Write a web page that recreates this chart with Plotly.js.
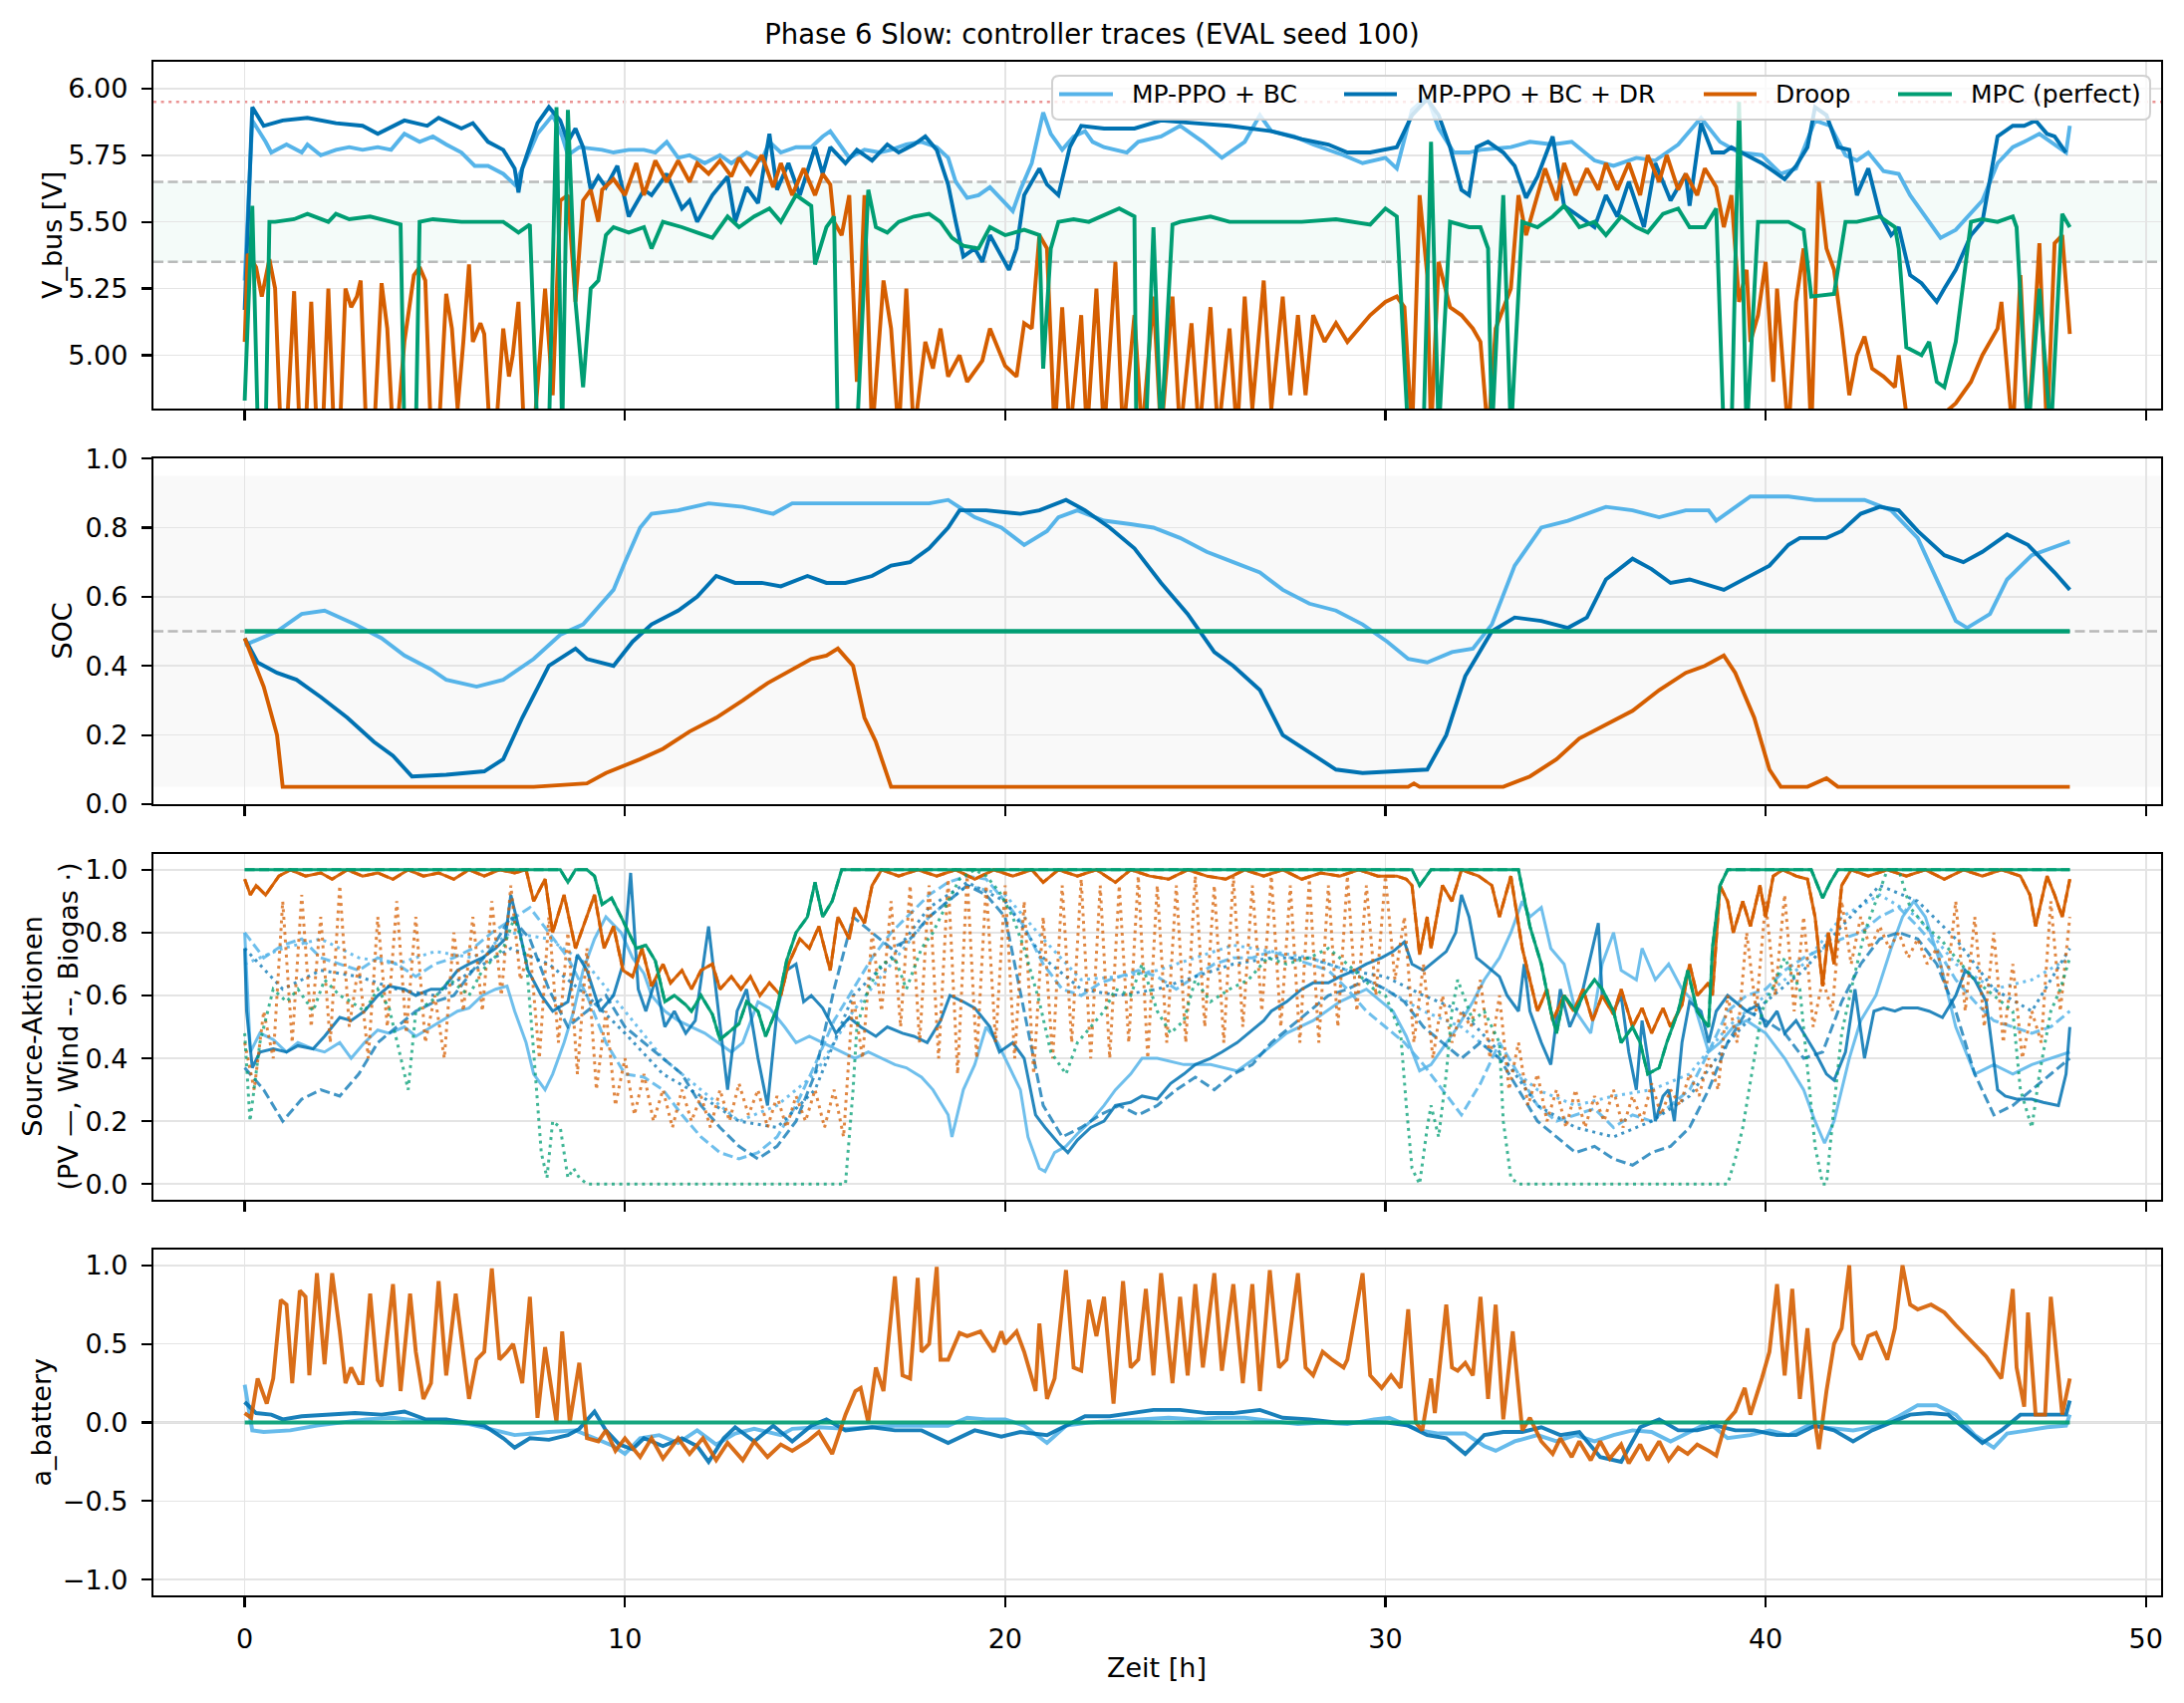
<!DOCTYPE html>
<html><head><meta charset="utf-8">
<script src="https://cdn.plot.ly/plotly-3.0.1.min.js"></script>
<style>html,body{margin:0;padding:0;background:#fff}#chart{width:2192px;height:1709px}</style>
</head><body><div id="chart"></div>
<script>
// ---------- Panel 1: V_bus [V]  (pairs: [hour, volt]) ----------
const vbusBC = [[0,5.28],[0.2,5.88],[0.55,5.80],[0.7,5.76],[1.1,5.79],[1.5,5.76],[1.65,5.79],[2.0,5.75],[2.4,5.77],[2.75,5.78],[3.1,5.77],[3.5,5.78],[3.85,5.77],[4.2,5.83],[4.6,5.80],[4.95,5.82],[5.3,5.79],[5.7,5.76],[6.05,5.71],[6.4,5.71],[6.8,5.68],[7.1,5.64],[7.3,5.70],[7.7,5.83],[8.1,5.90],[8.35,5.82],[8.5,5.75],[8.8,5.78],[9.4,5.77],[9.7,5.76],[10.1,5.77],[10.5,5.77],[10.8,5.76],[11.1,5.80],[11.4,5.74],[11.7,5.75],[12.1,5.72],[12.5,5.75],[12.8,5.72],[13.2,5.76],[13.6,5.73],[13.8,5.80],[14.1,5.76],[14.5,5.78],[14.9,5.78],[15.2,5.82],[15.4,5.84],[15.6,5.80],[15.9,5.74],[16.3,5.77],[16.7,5.76],[17.0,5.77],[17.4,5.79],[17.8,5.80],[18.2,5.78],[18.5,5.74],[18.7,5.65],[19.0,5.59],[19.3,5.60],[19.6,5.63],[20.0,5.57],[20.2,5.54],[20.4,5.62],[20.7,5.72],[21.0,5.91],[21.2,5.83],[21.5,5.77],[21.8,5.82],[22.1,5.84],[22.3,5.80],[22.6,5.78],[23.2,5.76],[23.5,5.80],[24.1,5.82],[24.6,5.86],[25.2,5.80],[25.7,5.74],[26.3,5.80],[26.7,5.90],[27.0,5.84],[27.6,5.82],[28.1,5.79],[28.9,5.75],[29.4,5.72],[30.0,5.74],[30.3,5.70],[30.7,5.92],[31.1,5.97],[31.4,5.85],[31.8,5.76],[32.2,5.76],[32.5,5.77],[33.3,5.78],[33.8,5.80],[34.4,5.79],[34.9,5.80],[35.5,5.73],[36.0,5.71],[36.6,5.74],[37.1,5.73],[37.7,5.79],[38.3,5.89],[38.8,5.80],[39.3,5.76],[39.9,5.75],[40.4,5.68],[40.8,5.70],[41.3,5.88],[41.7,5.86],[42.1,5.75],[42.4,5.73],[42.7,5.76],[43.1,5.69],[43.5,5.68],[43.8,5.60],[44.2,5.52],[44.6,5.44],[45.0,5.47],[45.4,5.53],[45.7,5.58],[46.1,5.72],[46.5,5.78],[46.8,5.80],[47.2,5.83],[47.5,5.80],[47.9,5.76],[48.0,5.86]];
const vbusDR = [[0,5.17],[0.2,5.93],[0.5,5.86],[1.0,5.88],[1.65,5.89],[2.4,5.87],[3.1,5.86],[3.5,5.83],[4.2,5.88],[4.8,5.86],[5.1,5.89],[5.7,5.85],[6.0,5.87],[6.4,5.80],[6.8,5.77],[7.1,5.70],[7.2,5.61],[7.3,5.70],[7.7,5.87],[8.0,5.93],[8.3,5.88],[8.5,5.80],[8.7,5.85],[8.9,5.78],[9.1,5.62],[9.3,5.67],[9.5,5.63],[9.8,5.71],[10.1,5.52],[10.5,5.62],[10.7,5.60],[11.1,5.68],[11.5,5.55],[11.7,5.58],[11.9,5.50],[12.3,5.60],[12.7,5.67],[12.9,5.50],[13.2,5.63],[13.5,5.57],[13.8,5.83],[14.0,5.62],[14.3,5.72],[14.6,5.60],[15.0,5.78],[15.2,5.68],[15.4,5.78],[15.8,5.72],[16.1,5.77],[16.5,5.73],[16.9,5.79],[17.2,5.76],[17.6,5.79],[17.9,5.82],[18.2,5.77],[18.5,5.64],[18.7,5.50],[18.9,5.37],[19.2,5.40],[19.4,5.35],[19.6,5.45],[19.8,5.40],[20.1,5.32],[20.3,5.40],[20.5,5.60],[20.9,5.70],[21.1,5.64],[21.4,5.60],[21.7,5.78],[22.0,5.86],[22.6,5.85],[23.4,5.85],[24.1,5.88],[25.0,5.87],[25.9,5.86],[27.0,5.84],[27.8,5.81],[28.5,5.79],[29.0,5.76],[29.6,5.76],[30.3,5.78],[30.7,5.90],[31.1,5.96],[31.4,5.90],[31.7,5.78],[32.0,5.62],[32.2,5.60],[32.4,5.78],[32.7,5.80],[33.1,5.76],[33.4,5.71],[33.7,5.59],[34.0,5.67],[34.4,5.82],[34.7,5.56],[35.1,5.52],[35.5,5.48],[35.8,5.60],[36.1,5.52],[36.4,5.65],[36.8,5.48],[37.1,5.72],[37.5,5.58],[37.9,5.68],[38.0,5.56],[38.3,5.87],[38.6,5.76],[38.9,5.76],[39.1,5.78],[39.5,5.75],[39.9,5.72],[40.2,5.69],[40.5,5.66],[40.8,5.71],[41.1,5.78],[41.3,5.93],[41.6,5.90],[41.9,5.78],[42.2,5.77],[42.4,5.60],[42.7,5.70],[43.0,5.53],[43.3,5.45],[43.5,5.48],[43.8,5.30],[44.1,5.27],[44.5,5.20],[44.7,5.25],[45.0,5.32],[45.4,5.45],[45.7,5.50],[46.1,5.82],[46.5,5.86],[46.8,5.86],[47.1,5.88],[47.4,5.83],[47.6,5.82],[47.9,5.76]];
const vbusDroop = [[0,5.05],[0.08,5.38],[0.3,5.33],[0.45,5.22],[0.65,5.36],[0.8,5.25],[0.95,4.7],[1.1,4.7],[1.3,5.24],[1.45,4.7],[1.6,4.7],[1.75,5.20],[1.9,4.7],[2.05,4.7],[2.2,5.25],[2.35,4.7],[2.5,4.7],[2.65,5.25],[2.8,5.18],[2.95,5.22],[3.05,5.28],[3.2,4.7],[3.4,4.7],[3.6,5.27],[3.75,5.10],[3.9,4.7],[4.0,4.7],[4.2,5.05],[4.45,5.30],[4.6,5.33],[4.75,5.28],[4.9,4.7],[5.1,4.7],[5.3,5.23],[5.45,5.10],[5.6,4.80],[5.75,5.05],[5.9,5.34],[6.0,5.05],[6.2,5.12],[6.3,5.08],[6.45,4.7],[6.6,4.7],[6.8,5.10],[6.95,4.92],[7.05,5.00],[7.2,5.20],[7.35,4.7],[7.6,4.7],[7.9,5.25],[8.1,4.85],[8.3,5.58],[8.5,5.60],[8.7,5.20],[8.9,5.58],[9.1,5.62],[9.3,5.50],[9.4,5.62],[9.7,5.66],[10.0,5.60],[10.3,5.72],[10.5,5.60],[10.8,5.73],[11.1,5.65],[11.4,5.73],[11.7,5.65],[11.9,5.72],[12.2,5.68],[12.5,5.73],[12.8,5.67],[13.0,5.74],[13.3,5.68],[13.6,5.75],[13.9,5.63],[14.1,5.72],[14.4,5.60],[14.7,5.70],[15.0,5.60],[15.2,5.68],[15.4,5.64],[15.5,5.50],[15.7,5.45],[15.9,5.60],[16.1,4.90],[16.3,5.60],[16.5,4.7],[16.8,5.28],[17.0,5.10],[17.2,4.7],[17.4,5.25],[17.6,4.7],[17.9,5.05],[18.1,4.95],[18.3,5.10],[18.5,4.92],[18.8,5.00],[19.0,4.90],[19.4,4.98],[19.6,5.10],[20.0,4.96],[20.3,4.92],[20.5,5.12],[20.7,5.10],[20.9,5.45],[21.1,5.40],[21.3,4.7],[21.5,5.18],[21.7,4.7],[22.0,5.15],[22.15,4.7],[22.4,5.25],[22.6,4.7],[22.9,5.35],[23.1,4.7],[23.4,5.15],[23.6,4.7],[23.9,5.22],[24.1,4.7],[24.4,5.22],[24.6,4.7],[24.9,5.12],[25.1,4.7],[25.4,5.18],[25.6,4.7],[25.9,5.10],[26.1,4.7],[26.3,5.22],[26.5,4.80],[26.8,5.28],[27.0,4.80],[27.3,5.22],[27.5,4.85],[27.7,5.15],[27.9,4.85],[28.1,5.15],[28.4,5.05],[28.7,5.12],[29.0,5.05],[29.3,5.10],[29.6,5.15],[30.0,5.20],[30.3,5.22],[30.5,5.18],[30.7,4.7],[30.9,5.60],[31.1,5.30],[31.2,4.7],[31.4,5.35],[31.7,5.18],[32.0,5.15],[32.3,5.10],[32.5,5.05],[32.7,4.7],[32.9,5.10],[33.3,5.25],[33.5,5.60],[33.7,5.45],[33.9,5.55],[34.2,5.70],[34.5,5.58],[34.7,5.72],[35.0,5.60],[35.3,5.70],[35.6,5.62],[35.8,5.72],[36.1,5.62],[36.4,5.72],[36.7,5.60],[36.9,5.75],[37.2,5.65],[37.4,5.75],[37.7,5.62],[37.9,5.68],[38.2,5.60],[38.4,5.70],[38.7,5.63],[38.9,5.48],[39.1,5.60],[39.3,5.20],[39.5,5.32],[39.6,5.05],[39.8,5.15],[40.0,5.35],[40.2,4.90],[40.3,5.25],[40.6,4.7],[40.8,5.20],[41.0,5.40],[41.2,4.7],[41.4,5.65],[41.6,5.40],[41.8,5.32],[42.0,5.10],[42.2,4.85],[42.4,5.00],[42.6,5.07],[42.8,4.95],[43.1,4.92],[43.4,4.88],[43.5,5.00],[43.7,4.78],[44.0,4.77],[44.3,4.75],[44.6,4.77],[45.0,4.82],[45.4,4.90],[45.7,5.00],[46.1,5.10],[46.2,5.20],[46.5,4.7],[46.7,5.30],[46.9,4.7],[47.2,5.42],[47.4,4.7],[47.6,5.42],[47.8,5.45],[48.0,5.08]];
const vbusMPC = [[0,4.83],[0.2,5.56],[0.35,4.7],[0.55,4.7],[0.65,5.50],[0.8,5.50],[1.3,5.51],[1.65,5.53],[2.2,5.50],[2.4,5.53],[2.75,5.51],[3.3,5.52],[3.85,5.50],[4.1,5.49],[4.2,4.7],[4.5,4.7],[4.6,5.50],[4.95,5.51],[5.7,5.50],[6.4,5.50],[6.8,5.50],[7.2,5.46],[7.5,5.49],[7.7,4.7],[8.0,4.7],[8.2,5.93],[8.35,4.7],[8.5,5.92],[8.7,5.20],[8.9,4.88],[9.1,5.25],[9.3,5.28],[9.5,5.45],[9.7,5.48],[10.1,5.46],[10.5,5.48],[10.7,5.40],[11.0,5.50],[11.5,5.48],[11.9,5.46],[12.3,5.44],[12.7,5.52],[13.0,5.48],[13.4,5.52],[13.8,5.55],[14.1,5.50],[14.5,5.60],[14.9,5.56],[15.0,5.34],[15.3,5.48],[15.5,5.52],[15.6,4.7],[16.1,4.7],[16.4,5.62],[16.6,5.48],[16.9,5.46],[17.2,5.50],[17.6,5.52],[18.0,5.53],[18.3,5.50],[18.6,5.44],[18.9,5.41],[19.3,5.40],[19.6,5.48],[20.0,5.45],[20.5,5.47],[20.9,5.45],[21.0,4.95],[21.2,5.40],[21.4,5.50],[21.8,5.51],[22.2,5.50],[23.0,5.55],[23.4,5.52],[23.45,4.7],[23.7,4.7],[23.9,5.48],[24.1,4.7],[24.4,5.49],[24.6,5.50],[25.4,5.52],[25.9,5.50],[27.0,5.50],[27.8,5.50],[28.7,5.51],[29.6,5.49],[30.0,5.55],[30.3,5.52],[30.6,4.7],[31.0,4.7],[31.2,5.80],[31.4,4.7],[31.7,5.50],[32.2,5.48],[32.5,5.48],[32.7,5.40],[32.8,4.7],[33.1,5.60],[33.3,4.7],[33.6,5.50],[34.0,5.48],[34.4,5.52],[34.7,5.56],[35.1,5.48],[35.5,5.50],[35.8,5.45],[36.2,5.52],[36.6,5.48],[36.9,5.46],[37.3,5.53],[37.7,5.55],[38.0,5.48],[38.4,5.48],[38.7,5.55],[38.9,4.7],[39.1,4.7],[39.3,5.95],[39.5,4.7],[39.8,5.50],[40.2,5.50],[40.6,5.50],[41.0,5.47],[41.2,5.22],[41.8,5.23],[42.1,5.50],[42.4,5.50],[43.0,5.52],[43.4,5.48],[43.5,5.40],[43.7,5.03],[44.1,5.00],[44.3,5.05],[44.5,4.90],[44.7,4.88],[45.0,5.05],[45.4,5.50],[45.7,5.51],[46.1,5.50],[46.5,5.52],[46.6,5.48],[46.9,4.7],[47.2,5.25],[47.5,4.7],[47.8,5.53],[48.0,5.48]];

// ---------- Panel 2: SOC ----------
const socBC = [[0,0.46],[0.85,0.50],[1.5,0.55],[2.1,0.56],[2.9,0.52],[3.6,0.48],[4.2,0.43],[4.9,0.39],[5.3,0.36],[6.1,0.34],[6.8,0.36],[7.6,0.42],[8.3,0.49],[8.9,0.52],[9.3,0.57],[9.7,0.62],[10.0,0.70],[10.4,0.80],[10.7,0.84],[11.4,0.85],[12.2,0.87],[13.1,0.86],[13.9,0.84],[14.4,0.87],[15.8,0.87],[17.1,0.87],[18.0,0.87],[18.5,0.88],[19.2,0.83],[19.9,0.80],[20.5,0.75],[21.1,0.79],[21.4,0.83],[21.9,0.85],[22.6,0.82],[23.3,0.81],[23.9,0.80],[24.6,0.77],[25.3,0.73],[26.0,0.70],[26.7,0.67],[27.3,0.62],[28.0,0.58],[28.7,0.56],[29.4,0.52],[30.05,0.47],[30.6,0.42],[31.1,0.41],[31.75,0.44],[32.3,0.45],[32.8,0.52],[33.4,0.69],[34.1,0.80],[34.8,0.82],[35.8,0.86],[36.5,0.85],[37.2,0.83],[37.9,0.85],[38.5,0.85],[38.7,0.82],[39.6,0.89],[40.6,0.89],[41.3,0.88],[42.6,0.88],[43.3,0.85],[44.0,0.77],[44.5,0.65],[45.0,0.53],[45.3,0.51],[45.9,0.55],[46.35,0.65],[47.0,0.72],[48.0,0.76]];
const socDR = [[0,0.48],[0.34,0.41],[0.85,0.38],[1.36,0.36],[2.0,0.31],[2.7,0.25],[3.4,0.18],[3.9,0.14],[4.4,0.08],[5.3,0.085],[6.3,0.095],[6.8,0.13],[7.3,0.25],[8.0,0.40],[8.7,0.45],[9.0,0.42],[9.7,0.40],[10.2,0.47],[10.7,0.52],[11.4,0.56],[11.9,0.60],[12.4,0.66],[12.9,0.64],[13.6,0.64],[14.1,0.63],[14.8,0.66],[15.3,0.64],[15.8,0.64],[16.5,0.66],[17.0,0.69],[17.5,0.70],[18.0,0.74],[18.5,0.80],[18.8,0.85],[19.5,0.85],[20.4,0.84],[20.9,0.85],[21.6,0.88],[22.1,0.85],[22.75,0.80],[23.4,0.74],[24.1,0.64],[24.8,0.55],[25.5,0.44],[26.0,0.40],[26.7,0.33],[27.3,0.20],[28.0,0.15],[28.7,0.10],[29.4,0.09],[30.2,0.095],[31.1,0.10],[31.6,0.20],[32.1,0.37],[32.8,0.50],[33.4,0.54],[34.1,0.53],[34.8,0.51],[35.3,0.54],[35.8,0.65],[36.5,0.71],[37.0,0.68],[37.5,0.64],[38.0,0.65],[38.9,0.62],[39.6,0.66],[40.1,0.69],[40.6,0.75],[40.9,0.77],[41.6,0.77],[42.0,0.79],[42.5,0.84],[43.0,0.86],[43.5,0.85],[44.0,0.79],[44.7,0.72],[45.2,0.70],[45.7,0.73],[46.35,0.78],[46.9,0.75],[47.6,0.67],[48.0,0.62]];
const socDroop = [[0,0.48],[0.5,0.34],[0.85,0.20],[1.0,0.05],[7.6,0.05],[8.3,0.055],[9.0,0.06],[9.5,0.09],[10.4,0.13],[11.0,0.16],[11.7,0.21],[12.4,0.25],[13.1,0.30],[13.75,0.35],[14.4,0.39],[14.9,0.42],[15.3,0.43],[15.6,0.45],[16.0,0.40],[16.3,0.25],[16.6,0.18],[17.0,0.05],[30.6,0.05],[30.75,0.06],[30.9,0.05],[33.1,0.05],[33.8,0.08],[34.5,0.13],[35.1,0.19],[35.8,0.23],[36.5,0.27],[37.2,0.33],[37.9,0.38],[38.4,0.40],[38.9,0.43],[39.2,0.38],[39.7,0.25],[40.1,0.10],[40.4,0.05],[41.1,0.05],[41.6,0.075],[41.9,0.05],[48.0,0.05]];
const socMPC = [[0,0.5],[48,0.5]];

// ---------- Panel 3: source actions ----------
const pvBC = [[0,0.80],[0.15,0.42],[0.4,0.48],[0.75,0.46],[1.1,0.42],[1.4,0.45],[1.8,0.43],[2.1,0.42],[2.5,0.45],[2.8,0.40],[3.15,0.45],[3.5,0.49],[3.8,0.48],[4.2,0.50],[4.5,0.47],[4.9,0.50],[5.2,0.52],[5.6,0.55],[5.9,0.56],[6.25,0.60],[6.6,0.62],[6.9,0.63],[7.1,0.55],[7.4,0.45],[7.6,0.35],[7.9,0.30],[8.1,0.35],[8.4,0.45],[8.65,0.55],[8.9,0.68],[9.2,0.78],[9.5,0.85],[9.9,0.80],[10.2,0.72],[10.5,0.67],[10.7,0.60],[11.05,0.55],[11.4,0.52],[11.75,0.50],[12.1,0.48],[12.45,0.45],[12.8,0.42],[13.1,0.45],[13.5,0.58],[13.8,0.56],[14.2,0.50],[14.5,0.45],[14.85,0.47],[15.2,0.45],[15.7,0.42],[16.05,0.40],[16.4,0.42],[16.75,0.40],[17.1,0.38],[17.4,0.37],[17.8,0.34],[18.1,0.30],[18.5,0.22],[18.6,0.15],[18.9,0.30],[19.2,0.38],[19.5,0.50],[19.8,0.45],[20.0,0.40],[20.4,0.30],[20.6,0.15],[20.9,0.05],[21.05,0.04],[21.3,0.10],[21.6,0.12],[21.9,0.16],[22.25,0.20],[22.6,0.25],[22.9,0.30],[23.3,0.35],[23.6,0.40],[24.0,0.40],[24.7,0.38],[25.4,0.38],[26.1,0.36],[26.8,0.42],[27.4,0.48],[28.1,0.52],[28.8,0.58],[29.5,0.62],[29.9,0.58],[30.2,0.55],[30.55,0.47],[30.9,0.36],[31.2,0.38],[31.6,0.45],[31.9,0.50],[32.3,0.58],[32.6,0.65],[33.0,0.72],[33.3,0.80],[33.6,0.90],[33.8,0.85],[34.1,0.88],[34.35,0.75],[34.7,0.70],[35.0,0.55],[35.4,0.48],[35.7,0.70],[36.0,0.80],[36.2,0.68],[36.6,0.65],[36.75,0.75],[37.1,0.65],[37.45,0.70],[37.8,0.62],[38.1,0.58],[38.5,0.42],[38.8,0.45],[39.15,0.50],[39.5,0.52],[40.0,0.48],[40.5,0.40],[41.0,0.30],[41.3,0.20],[41.55,0.13],[41.8,0.20],[42.2,0.40],[42.5,0.52],[42.9,0.60],[43.3,0.75],[43.6,0.85],[43.9,0.90],[44.2,0.85],[44.6,0.70],[45.0,0.50],[45.5,0.35],[46.0,0.38],[46.5,0.35],[47.0,0.38],[47.5,0.40],[48.0,0.42]];
const windBC = [0.80,0.72,0.76,0.78,0.72,0.70,0.68,0.72, 0.70,0.66,0.70,0.72,0.75,0.80,0.84,0.88, 0.80,0.72,0.60,0.45,0.35,0.34,0.30,0.22, 0.15,0.10,0.08,0.10,0.15,0.25,0.38,0.52, 0.62,0.72,0.80,0.86,0.92,0.96,0.98,0.97, 0.90,0.82,0.70,0.62,0.60,0.64,0.66,0.68, 0.66,0.62,0.66,0.70,0.72,0.72,0.74,0.72, 0.70,0.68,0.62,0.55,0.50,0.45,0.38,0.30, 0.22,0.32,0.45,0.35,0.25,0.20,0.22,0.24, 0.18,0.22,0.20,0.25,0.30,0.42,0.55,0.60, 0.62,0.68,0.72,0.75,0.78,0.80,0.85,0.88, 0.82,0.75,0.65,0.58,0.52,0.50,0.48,0.50, 0.55];
const bioBC = [0.70,0.75,0.78,0.72,0.70,0.74,0.72,0.80,0.78,0.70, 0.55,0.40,0.30,0.20,0.25,0.35,0.55,0.70,0.85,0.95, 0.92,0.78,0.65,0.66,0.68,0.72,0.76,0.74,0.72,0.68, 0.62,0.55,0.50,0.40,0.30,0.25,0.28,0.30,0.35,0.50, 0.60,0.70,0.85,0.92,0.85,0.70,0.62,0.65,0.72];
const pvDR = [[0,0.75],[0.05,0.55],[0.2,0.37],[0.4,0.42],[0.75,0.43],[1.1,0.42],[1.4,0.44],[1.8,0.43],[2.1,0.47],[2.5,0.53],[2.8,0.52],[3.15,0.55],[3.5,0.60],[3.8,0.63],[4.2,0.62],[4.5,0.60],[4.9,0.62],[5.2,0.62],[5.6,0.68],[5.9,0.70],[6.25,0.72],[6.6,0.75],[6.85,0.78],[7.0,0.92],[7.2,0.82],[7.45,0.68],[7.8,0.60],[8.1,0.55],[8.5,0.58],[8.75,0.73],[9.0,0.68],[9.35,0.55],[9.7,0.60],[9.95,0.70],[10.15,0.99],[10.35,0.62],[10.55,0.55],[10.8,0.65],[11.05,0.50],[11.3,0.55],[11.6,0.48],[11.85,0.52],[12.2,0.82],[12.45,0.55],[12.7,0.30],[12.95,0.55],[13.2,0.62],[13.5,0.40],[13.75,0.25],[14.0,0.55],[14.25,0.68],[14.5,0.70],[14.7,0.58],[14.9,0.60],[15.2,0.56],[15.55,0.48],[15.9,0.53],[16.2,0.50],[16.6,0.47],[16.9,0.50],[17.3,0.48],[17.6,0.47],[17.95,0.45],[18.3,0.52],[18.55,0.60],[18.9,0.58],[19.2,0.56],[19.6,0.50],[19.85,0.42],[20.2,0.45],[20.5,0.40],[20.8,0.22],[21.05,0.18],[21.4,0.13],[21.65,0.10],[21.9,0.14],[22.25,0.18],[22.6,0.20],[22.9,0.25],[23.3,0.26],[23.6,0.28],[24.0,0.27],[24.35,0.32],[24.7,0.35],[25.0,0.38],[25.4,0.40],[25.7,0.42],[26.1,0.45],[26.4,0.48],[26.8,0.52],[27.0,0.55],[27.4,0.58],[27.8,0.62],[28.1,0.64],[28.5,0.64],[28.8,0.66],[29.2,0.68],[29.5,0.70],[29.9,0.72],[30.2,0.74],[30.5,0.77],[30.7,0.70],[31.0,0.68],[31.2,0.70],[31.6,0.74],[31.85,0.80],[32.0,0.92],[32.2,0.85],[32.4,0.72],[32.6,0.70],[33.0,0.66],[33.2,0.60],[33.5,0.55],[33.65,0.70],[33.8,0.55],[34.1,0.45],[34.35,0.38],[34.6,0.62],[34.85,0.50],[35.1,0.57],[35.4,0.72],[35.6,0.83],[35.7,0.60],[36.0,0.55],[36.2,0.60],[36.4,0.42],[36.6,0.30],[36.75,0.52],[36.9,0.40],[37.1,0.20],[37.3,0.28],[37.45,0.30],[37.6,0.20],[37.8,0.45],[38.0,0.58],[38.3,0.55],[38.5,0.45],[38.7,0.55],[39.0,0.60],[39.2,0.58],[39.5,0.55],[39.8,0.57],[40.0,0.50],[40.3,0.55],[40.5,0.48],[40.8,0.52],[41.05,0.47],[41.3,0.42],[41.6,0.35],[41.8,0.33],[42.1,0.42],[42.35,0.62],[42.6,0.40],[42.85,0.55],[43.1,0.56],[43.4,0.55],[43.6,0.56],[44.0,0.56],[44.3,0.55],[44.65,0.53],[45.0,0.60],[45.25,0.68],[45.5,0.65],[45.8,0.58],[46.1,0.30],[46.3,0.28],[46.6,0.27],[47.0,0.27],[47.3,0.26],[47.7,0.25],[47.9,0.35],[48.0,0.50]];
const windDR = [0.37,0.30,0.20,0.27,0.30,0.28,0.35,0.45, 0.50,0.55,0.58,0.60,0.68,0.75,0.85,0.78, 0.62,0.50,0.55,0.60,0.50,0.45,0.40,0.35, 0.25,0.18,0.12,0.08,0.12,0.20,0.35,0.62, 0.85,0.80,0.75,0.78,0.85,0.90,0.95,0.92, 0.85,0.55,0.25,0.15,0.18,0.22,0.25,0.22, 0.25,0.30,0.34,0.30,0.35,0.38,0.45,0.50, 0.55,0.60,0.62,0.65,0.62,0.58,0.50,0.45, 0.40,0.45,0.40,0.30,0.20,0.15,0.10,0.12, 0.08,0.06,0.10,0.12,0.18,0.30,0.45,0.55, 0.52,0.48,0.40,0.42,0.58,0.70,0.78,0.80, 0.78,0.70,0.55,0.35,0.22,0.25,0.30,0.35, 0.40];
const bioDR = [0.75,0.62,0.68,0.66,0.62,0.60,0.68,0.75,0.70,0.60, 0.48,0.35,0.28,0.20,0.18,0.30,0.60,0.72,0.88,0.96, 0.90,0.72,0.62,0.60,0.62,0.66,0.70,0.72,0.72,0.68, 0.66,0.60,0.55,0.42,0.25,0.18,0.15,0.20,0.28,0.45, 0.58,0.68,0.82,0.95,0.90,0.78,0.62,0.55,0.75];
const pvDroop = [[0,0.97],[0.15,0.92],[0.3,0.95],[0.55,0.92],[0.9,0.98],[1.2,1.0],[1.6,0.98],[2.0,0.99],[2.3,0.97],[2.7,1.0],[3.1,0.98],[3.5,0.99],[3.9,0.97],[4.3,1.0],[4.7,0.98],[5.1,0.99],[5.5,0.97],[5.9,1.0],[6.3,0.98],[6.7,1.0],[7.1,0.99],[7.4,1.0],[7.6,0.90],[7.9,0.97],[8.1,0.80],[8.4,0.92],[8.7,0.75],[8.9,0.82],[9.2,0.92],[9.45,0.75],[9.7,0.82],[9.95,0.68],[10.2,0.66],[10.45,0.75],[10.7,0.63],[11.0,0.70],[11.2,0.64],[11.5,0.68],[11.75,0.62],[12.0,0.68],[12.3,0.70],[12.5,0.62],[12.8,0.66],[13.05,0.62],[13.3,0.66],[13.55,0.60],[13.8,0.64],[14.1,0.60],[14.3,0.70],[14.6,0.78],[14.85,0.75],[15.1,0.82],[15.4,0.68],[15.6,0.85],[15.9,0.78],[16.05,0.88],[16.3,0.83],[16.5,0.95],[16.75,1.0],[17.2,0.98],[17.7,1.0],[18.2,0.98],[18.7,1.0],[19.2,0.97],[19.7,1.0],[20.2,0.98],[20.7,1.0],[21.0,0.96],[21.4,1.0],[21.9,0.98],[22.4,1.0],[22.9,0.96],[23.3,1.0],[23.8,0.98],[24.3,0.97],[24.8,1.0],[25.3,0.98],[25.8,0.97],[26.3,1.0],[26.8,0.98],[27.3,1.0],[27.8,0.97],[28.3,0.99],[28.8,0.98],[29.3,1.0],[29.8,0.98],[30.3,0.98],[30.55,0.97],[30.7,0.95],[30.9,0.73],[31.1,0.85],[31.2,0.75],[31.5,0.95],[31.75,0.90],[32.0,1.0],[32.45,0.98],[32.8,0.95],[33.0,0.85],[33.3,0.98],[33.6,0.75],[33.8,0.65],[34.0,0.55],[34.25,0.62],[34.4,0.52],[34.7,0.60],[34.95,0.55],[35.2,0.62],[35.45,0.52],[35.7,0.60],[36.0,0.54],[36.2,0.62],[36.5,0.50],[36.75,0.56],[37.0,0.48],[37.3,0.56],[37.5,0.50],[37.8,0.57],[38.0,0.70],[38.2,0.60],[38.5,0.64],[38.6,0.60],[38.8,0.95],[39.0,0.90],[39.15,0.80],[39.4,0.90],[39.6,0.82],[39.85,0.95],[40.0,0.85],[40.2,0.98],[40.45,1.0],[40.8,0.98],[41.1,0.97],[41.3,0.85],[41.5,0.63],[41.65,0.80],[41.8,0.70],[42.0,0.95],[42.25,1.0],[42.7,0.98],[43.2,1.0],[43.7,0.98],[44.2,1.0],[44.7,0.97],[45.2,1.0],[45.7,0.98],[46.2,1.0],[46.7,0.98],[46.95,0.92],[47.1,0.82],[47.4,0.98],[47.6,0.92],[47.8,0.85],[48.0,0.97]];
const bioDroop = [0.45,0.30,0.55,0.40, 0.90,0.45,0.92,0.50, 0.85,0.45,0.95,0.50, 0.70,0.40,0.85,0.50, 0.90,0.48,0.85,0.45, 0.60,0.40,0.80,0.55, 0.85,0.55,0.90,0.60, 0.95,0.65,0.75,0.40, 0.85,0.45,0.80,0.35, 0.75,0.30,0.55,0.25, 0.40,0.22,0.35,0.20, 0.30,0.18,0.30,0.20, 0.28,0.18,0.30,0.20, 0.32,0.22,0.30,0.18, 0.28,0.18,0.28,0.20, 0.30,0.18,0.30,0.15, 0.60,0.40,0.80,0.55, 0.90,0.50,0.95,0.45, 0.95,0.40,0.97,0.35, 0.98,0.40,0.95,0.45, 0.95,0.40,0.90,0.35, 0.85,0.40,0.95,0.45, 0.97,0.40,0.95,0.40, 0.95,0.45,0.98,0.40, 0.95,0.45,0.95,0.45, 0.98,0.50,0.95,0.45, 0.98,0.50,0.95,0.55, 0.98,0.50,0.95,0.45, 0.97,0.45,0.95,0.50, 0.98,0.55,0.95,0.60, 0.98,0.65,0.85,0.45, 0.70,0.40,0.60,0.45, 0.55,0.50,0.65,0.40, 0.60,0.30,0.45,0.25, 0.35,0.20,0.30,0.18, 0.30,0.18,0.28,0.20, 0.30,0.18,0.28,0.20, 0.32,0.22,0.30,0.25, 0.35,0.28,0.40,0.30, 0.60,0.45,0.80,0.55, 0.90,0.60,0.92,0.55, 0.85,0.50,0.65,0.55, 0.90,0.70,0.85,0.75, 0.82,0.75,0.80,0.72, 0.78,0.70,0.75,0.62, 0.90,0.55,0.85,0.50, 0.80,0.45,0.70,0.40, 0.55,0.45,0.90,0.55, 0.85];
const pvMPC = [[0,1.0],[8.3,1.0],[8.5,0.96],[8.7,1.0],[9.0,1.0],[9.2,0.98],[9.4,0.89],[9.65,0.91],[9.9,0.85],[10.3,0.75],[10.55,0.76],[10.8,0.71],[11.05,0.58],[11.3,0.60],[11.6,0.57],[11.75,0.55],[12.0,0.60],[12.3,0.54],[12.5,0.46],[12.8,0.49],[13.0,0.51],[13.2,0.58],[13.5,0.55],[13.7,0.47],[14.0,0.56],[14.25,0.71],[14.5,0.80],[14.8,0.85],[15.0,0.96],[15.2,0.85],[15.45,0.90],[15.7,1.0],[30.7,1.0],[30.9,0.95],[31.2,1.0],[33.5,1.0],[33.8,0.82],[34.1,0.70],[34.35,0.55],[34.5,0.48],[34.7,0.60],[35.0,0.55],[35.2,0.60],[35.5,0.65],[35.7,0.62],[36.0,0.55],[36.2,0.45],[36.5,0.50],[36.7,0.45],[36.9,0.35],[37.2,0.37],[37.4,0.45],[37.7,0.55],[37.95,0.68],[38.2,0.55],[38.5,0.50],[38.6,0.75],[38.8,0.95],[39.0,1.0],[41.2,1.0],[41.5,0.91],[41.7,0.96],[41.9,1.0],[48.0,1.0]];
const bioMPC = [[0,0.48],[0.14,0.20],[0.4,0.45],[0.75,0.62],[1.1,0.58],[1.4,0.62],[1.8,0.55],[2.1,0.65],[2.5,0.60],[2.8,0.58],[3.15,0.55],[3.5,0.62],[3.8,0.56],[4.3,0.30],[4.5,0.55],[4.9,0.58],[5.4,0.65],[5.9,0.60],[6.25,0.68],[6.8,0.75],[7.1,0.85],[7.4,0.72],[7.6,0.42],[7.8,0.10],[7.95,0.02],[8.1,0.20],[8.3,0.18],[8.5,0.02],[8.65,0.05],[8.8,0.02],[9.0,0.0],[15.8,0.0],[16.0,0.30],[16.1,0.50],[16.4,0.62],[16.75,0.70],[17.1,0.72],[17.4,0.62],[17.8,0.75],[18.1,0.80],[18.5,0.90],[18.8,0.97],[19.2,1.0],[19.5,0.98],[19.85,0.93],[20.2,0.85],[20.5,0.75],[20.9,0.58],[21.2,0.42],[21.6,0.35],[21.9,0.45],[22.25,0.50],[22.6,0.55],[22.9,0.62],[23.3,0.60],[23.6,0.70],[24.0,0.55],[24.35,0.48],[24.7,0.52],[25.0,0.65],[25.4,0.58],[25.9,0.62],[26.4,0.65],[26.9,0.72],[27.4,0.70],[28.0,0.72],[28.5,0.75],[29.0,0.70],[29.35,0.66],[29.7,0.62],[30.0,0.60],[30.4,0.48],[30.55,0.25],[30.7,0.05],[30.9,0.0],[31.1,0.18],[31.2,0.25],[31.4,0.15],[31.6,0.35],[31.75,0.55],[31.9,0.65],[32.3,0.52],[32.6,0.55],[33.0,0.45],[33.1,0.20],[33.3,0.02],[33.5,0.0],[39.0,0.0],[39.2,0.08],[39.4,0.18],[39.7,0.40],[39.9,0.55],[40.2,0.63],[40.5,0.72],[40.9,0.62],[41.1,0.38],[41.3,0.12],[41.5,0.0],[41.6,0.0],[41.8,0.25],[42.0,0.48],[42.25,0.62],[42.6,0.80],[42.9,0.90],[43.2,1.0],[43.5,1.0],[43.8,0.88],[44.2,0.82],[44.6,0.78],[45.0,0.72],[45.5,0.65],[46.0,0.60],[46.5,0.55],[46.7,0.30],[47.0,0.18],[47.2,0.35],[47.5,0.55],[47.75,0.62],[48.0,0.72]];

// ---------- Panel 4: a_battery ----------
const batBC = [[0,0.24],[0.2,-0.05],[0.5,-0.06],[1.2,-0.05],[1.9,-0.02],[2.5,0.0],[3.2,0.02],[3.9,0.03],[4.6,0.01],[5.3,0.0],[5.9,-0.01],[6.6,-0.05],[7.1,-0.08],[8.0,-0.06],[8.7,-0.05],[9.2,-0.10],[9.7,-0.15],[10.0,-0.20],[10.4,-0.10],[10.9,-0.08],[11.4,-0.13],[11.9,-0.05],[12.4,-0.14],[12.9,-0.07],[13.4,-0.04],[14.1,-0.08],[14.4,-0.04],[15.1,-0.03],[15.8,-0.04],[16.5,-0.03],[17.1,-0.02],[17.8,-0.02],[18.5,-0.02],[19.0,0.03],[19.5,0.02],[20.0,0.02],[20.5,-0.02],[21.1,-0.13],[21.6,-0.02],[22.2,0.0],[22.9,0.01],[23.6,0.02],[24.3,0.03],[25.0,0.02],[25.6,0.03],[26.3,0.03],[27.0,0.01],[27.7,-0.01],[28.35,0.0],[29.0,-0.01],[29.7,0.02],[30.1,0.03],[30.6,-0.02],[30.9,-0.05],[31.4,-0.07],[32.1,-0.07],[32.6,-0.15],[32.9,-0.18],[33.4,-0.12],[34.0,-0.08],[34.5,-0.12],[35.0,-0.08],[35.5,-0.12],[36.0,-0.08],[36.5,-0.05],[37.0,-0.06],[37.5,-0.12],[38.0,-0.06],[38.5,0.0],[39.0,-0.10],[39.6,-0.08],[40.1,-0.05],[40.6,-0.08],[41.1,-0.02],[41.6,-0.03],[42.3,-0.05],[43.0,-0.02],[43.5,0.04],[44.0,0.11],[44.5,0.11],[45.0,0.05],[45.5,-0.08],[46.0,-0.16],[46.35,-0.07],[46.9,-0.05],[47.4,-0.03],[47.9,-0.02],[48.0,0.05]];
const batDR = [[0,0.13],[0.3,0.06],[0.7,0.05],[1.0,0.02],[1.5,0.04],[2.2,0.05],[2.9,0.06],[3.6,0.05],[4.2,0.07],[4.75,0.02],[5.3,0.02],[5.8,0.0],[6.3,-0.02],[6.8,-0.10],[7.1,-0.16],[7.5,-0.10],[8.0,-0.11],[8.5,-0.08],[8.8,-0.04],[9.2,0.07],[9.5,-0.05],[9.85,-0.14],[10.2,-0.17],[10.5,-0.10],[11.0,-0.15],[11.5,-0.10],[11.9,-0.15],[12.2,-0.25],[12.6,-0.10],[12.9,-0.03],[13.4,-0.12],[13.9,-0.02],[14.4,-0.12],[14.9,-0.02],[15.3,0.02],[15.8,-0.05],[16.5,-0.03],[17.1,-0.05],[17.8,-0.05],[18.5,-0.13],[19.2,-0.05],[19.9,-0.09],[20.4,-0.06],[21.1,-0.08],[21.6,-0.02],[22.1,0.04],[22.75,0.04],[23.4,0.06],[23.9,0.08],[24.6,0.08],[25.3,0.06],[26.0,0.06],[26.7,0.08],[27.3,0.03],[28.0,0.02],[28.7,0.0],[29.4,0.0],[30.05,0.0],[30.6,-0.02],[31.1,-0.08],[31.6,-0.10],[32.1,-0.20],[32.6,-0.08],[33.1,-0.06],[33.6,-0.06],[34.1,-0.03],[34.6,-0.08],[35.1,-0.06],[35.65,-0.22],[36.2,-0.25],[36.7,-0.03],[37.2,0.02],[37.7,-0.05],[38.2,-0.05],[38.7,-0.02],[39.2,-0.05],[39.7,-0.05],[40.3,-0.08],[40.8,-0.08],[41.3,-0.02],[41.8,-0.05],[42.3,-0.12],[42.8,-0.05],[43.3,0.0],[43.8,0.05],[44.3,0.06],[44.8,0.05],[45.3,-0.05],[45.7,-0.13],[46.2,-0.05],[46.7,0.05],[47.4,0.05],[47.9,0.05],[48.0,0.14]];
const batDroop = [[0,0.06],[0.17,0.03],[0.34,0.28],[0.58,0.12],[0.75,0.28],[0.95,0.78],[1.1,0.75],[1.25,0.25],[1.45,0.84],[1.6,0.80],[1.7,0.30],[1.9,0.95],[2.1,0.37],[2.3,0.95],[2.5,0.58],[2.65,0.25],[2.8,0.35],[3.0,0.25],[3.1,0.25],[3.3,0.82],[3.5,0.27],[3.6,0.23],[3.9,0.88],[4.1,0.20],[4.35,0.82],[4.5,0.45],[4.7,0.15],[4.9,0.25],[5.1,0.90],[5.3,0.30],[5.55,0.82],[5.9,0.15],[6.1,0.40],[6.3,0.45],[6.5,0.98],[6.7,0.40],[6.9,0.45],[7.06,0.50],[7.3,0.25],[7.5,0.80],[7.7,0.03],[7.9,0.48],[8.2,0.0],[8.35,0.58],[8.55,0.0],[8.8,0.38],[9.0,-0.10],[9.3,-0.12],[9.5,-0.05],[9.75,-0.18],[10.0,-0.10],[10.4,-0.22],[10.7,-0.10],[11.0,-0.23],[11.4,-0.10],[11.7,-0.20],[12.05,-0.10],[12.4,-0.24],[12.7,-0.13],[13.1,-0.24],[13.4,-0.12],[13.75,-0.22],[14.1,-0.14],[14.4,-0.18],[14.8,-0.12],[15.1,-0.06],[15.45,-0.20],[15.8,0.05],[16.06,0.20],[16.2,0.22],[16.4,0.0],[16.6,0.35],[16.8,0.20],[17.1,0.93],[17.3,0.30],[17.5,0.28],[17.7,0.92],[17.8,0.45],[18.0,0.50],[18.2,0.99],[18.3,0.40],[18.5,0.40],[18.8,0.57],[19.0,0.55],[19.35,0.58],[19.7,0.45],[19.9,0.58],[20.0,0.50],[20.3,0.58],[20.5,0.45],[20.8,0.20],[20.9,0.63],[21.1,0.15],[21.3,0.28],[21.6,0.97],[21.8,0.35],[22.0,0.33],[22.2,0.78],[22.4,0.55],[22.6,0.80],[22.85,0.12],[23.1,0.90],[23.3,0.35],[23.5,0.40],[23.7,0.85],[23.9,0.30],[24.1,0.95],[24.4,0.25],[24.6,0.80],[24.8,0.30],[25.0,0.88],[25.2,0.35],[25.5,0.95],[25.7,0.33],[26.0,0.88],[26.25,0.25],[26.5,0.88],[26.7,0.20],[26.96,0.97],[27.2,0.35],[27.4,0.40],[27.7,0.95],[27.9,0.35],[28.1,0.30],[28.35,0.45],[28.6,0.40],[28.9,0.35],[29.0,0.40],[29.4,0.95],[29.6,0.30],[29.9,0.22],[30.15,0.30],[30.4,0.22],[30.6,0.72],[30.8,0.0],[30.97,-0.05],[31.2,0.28],[31.3,0.06],[31.6,0.75],[31.75,0.35],[31.9,0.33],[32.1,0.38],[32.3,0.30],[32.5,0.80],[32.7,0.15],[32.9,0.75],[33.1,0.02],[33.35,0.58],[33.6,-0.05],[33.8,0.03],[33.96,-0.05],[34.1,-0.12],[34.4,-0.20],[34.6,-0.10],[34.9,-0.22],[35.1,-0.12],[35.4,-0.24],[35.65,-0.12],[35.9,-0.23],[36.2,-0.14],[36.4,-0.26],[36.7,-0.14],[36.9,-0.24],[37.2,-0.12],[37.45,-0.24],[37.7,-0.16],[37.95,-0.20],[38.2,-0.14],[38.5,-0.18],[38.7,-0.21],[38.95,0.0],[39.2,0.07],[39.45,0.22],[39.6,0.05],[39.9,0.28],[40.1,0.45],[40.3,0.88],[40.5,0.30],[40.7,0.85],[40.9,0.15],[41.1,0.60],[41.3,0.0],[41.4,-0.17],[41.6,0.20],[41.8,0.50],[42.0,0.60],[42.2,1.0],[42.3,0.50],[42.5,0.40],[42.7,0.55],[42.9,0.57],[43.2,0.40],[43.4,0.60],[43.6,1.0],[43.8,0.75],[44.0,0.72],[44.35,0.75],[44.7,0.70],[45.0,0.62],[45.5,0.50],[45.8,0.42],[46.0,0.35],[46.2,0.28],[46.5,0.85],[46.6,0.35],[46.8,0.10],[46.9,0.70],[47.1,0.05],[47.35,0.05],[47.5,0.80],[47.8,0.05],[48.0,0.28]];
const batMPC = [[0,0],[48,0]];

// ---------- labels ----------
const names = ['MP-PPO + BC', 'MP-PPO + BC + DR', 'Droop', 'MPC (perfect)'];
const colors = ['#56B4E9', '#0072B2', '#D55E00', '#009E73'];
const xTicks = [0, 10, 20, 30, 40, 50];
const vTicks = [5.0, 5.25, 5.5, 5.75, 6.0];

const W = 2192, H = 1709;
const FONT = 'DejaVu Sans';
const xs = p => p.map(d => d[0]);
const ys = p => p.map(d => d[1]);
const grid = (arr, step) => arr.map((_, i) => i * step);
const px = v => v / W, py = v => 1 - v / H;

function tr(x, y, ax, ci, w, dash, op) {
  return {type: 'scatter', mode: 'lines', x, y, xaxis: 'x' + (ax === 1 ? '' : ax), yaxis: 'y' + (ax === 1 ? '' : ax),
    line: {color: colors[ci], width: w, dash: dash || 'solid'}, opacity: op === undefined ? 1 : op, name: names[ci],
    showlegend: false, hoverinfo: 'skip'};
}
const DASH = '10px,4.5px', DOT = '3px,4.6px';
const LW = 3.9, LW3 = 3.0;
const traces = [
  tr(xs(vbusBC), ys(vbusBC), 1, 0, LW),
  tr(xs(vbusDR), ys(vbusDR), 1, 1, LW),
  tr(xs(vbusDroop), ys(vbusDroop), 1, 2, LW),
  tr(xs(vbusMPC), ys(vbusMPC), 1, 3, LW),

  tr(xs(socBC), ys(socBC), 2, 0, LW),
  tr(xs(socDR), ys(socDR), 2, 1, LW),
  tr(xs(socDroop), ys(socDroop), 2, 2, LW),
  tr(xs(socMPC), ys(socMPC), 2, 3, 4.4),

  tr(xs(pvBC), ys(pvBC), 3, 0, LW3, null, 0.85),
  tr(grid(windBC, 0.5), windBC, 3, 0, LW3, DASH, 0.85),
  tr(grid(bioBC, 1), bioBC, 3, 0, LW3, DOT, 0.85),
  tr(xs(pvDR), ys(pvDR), 3, 1, LW3, null, 0.85),
  tr(grid(windDR, 0.5), windDR, 3, 1, LW3, DASH, 0.75),
  tr(grid(bioDR, 1), bioDR, 3, 1, LW3, DOT, 0.75),
  tr(xs(pvDroop), ys(pvDroop), 3, 2, LW3, null, 0.95),
  tr(xs(pvDroop), ys(pvDroop), 3, 2, LW3, DASH, 0.95),
  tr(grid(bioDroop, 0.25), bioDroop, 3, 2, LW3, DOT, 0.75),
  tr(xs(pvMPC), ys(pvMPC), 3, 3, LW3, null, 0.95),
  tr(xs(pvMPC), ys(pvMPC), 3, 3, LW3, DASH, 0.95),
  tr(xs(bioMPC), ys(bioMPC), 3, 3, LW3, DOT, 0.75),

  tr(xs(batBC), ys(batBC), 4, 0, LW, null, 0.9),
  tr(xs(batDR), ys(batDR), 4, 1, LW, null, 0.9),
  tr(xs(batDroop), ys(batDroop), 4, 2, LW, null, 0.9),
  tr(xs(batMPC), ys(batMPC), 4, 3, LW, null, 0.9)
];

const XD = [154 / W, 2169 / W];
const DOM = [[0.7601, 0.9637], [0.5278, 0.7308], [0.2955, 0.4985], [0.0632, 0.2662]];
const tickFont = {family: FONT, size: 27, color: '#000'};
function xax(anchor, labels) {
  return {domain: XD, range: [-2.4, 50.4], anchor, tickvals: xTicks, ticks: 'outside', ticklen: 10, tickwidth: 2.2,
    tickcolor: '#000', showticklabels: labels, showline: true, mirror: true, linecolor: '#000', linewidth: 2.2,
    showgrid: true, gridcolor: '#e4e4e4', gridwidth: 1.6, zeroline: false, tickfont: tickFont, ticklabelstandoff: 8};
}
function yax(i, range, extra) {
  return Object.assign({domain: DOM[i], range, anchor: 'x' + (i === 0 ? '' : i + 1), ticks: 'outside', ticklen: 10,
    tickwidth: 2.2, tickcolor: '#000', showline: true, mirror: true, linecolor: '#000', linewidth: 2.2, showgrid: true,
    gridcolor: '#e4e4e4', gridwidth: 1.6, zeroline: false, tickfont: tickFont, ticklabelstandoff: 8}, extra);
}

const shapes = [
  {type: 'rect', xref: 'x domain', x0: 0, x1: 1, yref: 'y', y0: 5.35, y1: 5.65, fillcolor: 'rgba(0,158,115,0.045)', line: {width: 0}, layer: 'below'},
  {type: 'line', xref: 'x domain', x0: 0, x1: 1, yref: 'y', y0: 5.35, y1: 5.35, line: {color: 'rgba(120,120,120,0.5)', width: 2.6, dash: DASH}, layer: 'below'},
  {type: 'line', xref: 'x domain', x0: 0, x1: 1, yref: 'y', y0: 5.65, y1: 5.65, line: {color: 'rgba(120,120,120,0.5)', width: 2.6, dash: DASH}, layer: 'below'},
  {type: 'line', xref: 'x domain', x0: 0, x1: 1, yref: 'y', y0: 5.95, y1: 5.95, line: {color: 'rgba(214,39,40,0.5)', width: 2.6, dash: DOT}, layer: 'below'},
  {type: 'rect', xref: 'x2 domain', x0: 0, x1: 1, yref: 'y2', y0: 0.05, y1: 0.95, fillcolor: 'rgba(0,0,0,0.025)', line: {width: 0}, layer: 'below'},
  {type: 'line', xref: 'x2 domain', x0: 0, x1: 1, yref: 'y2', y0: 0.5, y1: 0.5, line: {color: 'rgba(120,120,120,0.5)', width: 2.6, dash: DASH}, layer: 'below'},
  {type: 'line', xref: 'x4 domain', x0: 0, x1: 1, yref: 'y4', y0: 0, y1: 0, line: {color: 'rgba(0,0,0,0.5)', width: 1.6}, layer: 'below'}
];

// ---- legend box (matplotlib-style, inside panel 1, upper right) ----
const LG = {x0: 1056, x1: 2158, y0: 76, y1: 120, r: 7};
const rx = LG.r / W, ry = LG.r / H;
const lx0 = px(LG.x0), lx1 = px(LG.x1), ly0 = py(LG.y1), ly1 = py(LG.y0);
shapes.push({type: 'path', xref: 'paper', yref: 'paper', layer: 'above',
  path: `M ${lx0 + rx},${ly1} L ${lx1 - rx},${ly1} Q ${lx1},${ly1} ${lx1},${ly1 - ry} L ${lx1},${ly0 + ry} Q ${lx1},${ly0} ${lx1 - rx},${ly0} L ${lx0 + rx},${ly0} Q ${lx0},${ly0} ${lx0},${ly0 + ry} L ${lx0},${ly1 - ry} Q ${lx0},${ly1} ${lx0 + rx},${ly1} Z`,
  fillcolor: 'rgba(255,255,255,0.8)', line: {color: 'rgba(204,204,204,0.9)', width: 2}});
const legLine = [[1063, 1117], [1349, 1402], [1710, 1763], [1905, 1959]];
const legText = [1134, 1420, 1780, 1976];
const LEG_Y = 94.5;

function ylab(text, x, i) {
  return {text, xref: 'paper', yref: 'paper', x, y: (DOM[i][0] + DOM[i][1]) / 2, xanchor: 'center', yanchor: 'middle',
    textangle: -90, showarrow: false, font: {family: FONT, size: 27, color: '#000'}};
}
const annotations = [
  ylab('V_bus [V]', 52 / W, 0),
  ylab('SOC', 63 / W, 1),
  ylab('Source-Aktionen<br>(PV —, Wind --, Biogas ·)', 50 / W, 2),
  ylab('a_battery', 42 / W, 3),
  {text: 'Zeit [h]', xref: 'paper', yref: 'paper', x: (XD[0] + XD[1]) / 2, y: py(1673), xanchor: 'center', yanchor: 'middle',
    showarrow: false, font: {family: FONT, size: 27, color: '#000'}}
];
names.forEach((n, i) => {
  shapes.push({type: 'line', xref: 'paper', yref: 'paper', layer: 'above', x0: px(legLine[i][0]), x1: px(legLine[i][1]),
    y0: py(LEG_Y), y1: py(LEG_Y), line: {color: colors[i], width: 4.2}});
  annotations.push({text: n, xref: 'paper', yref: 'paper', x: px(legText[i]), y: py(LEG_Y), xanchor: 'left', yanchor: 'middle',
    showarrow: false, font: {family: FONT, size: 25, color: '#000'}});
});

const layout = {
  width: W, height: H, margin: {l: 0, r: 0, t: 0, b: 0}, paper_bgcolor: '#fff', plot_bgcolor: '#fff',
  showlegend: false,
  title: {text: 'Phase 6 Slow: controller traces (EVAL seed 100)', x: 0.5, xanchor: 'center', xref: 'paper',
    y: py(34), yanchor: 'middle', yref: 'paper', font: {family: FONT, size: 27.5, color: '#000'}},
  xaxis: xax('y', false), xaxis2: xax('y2', false), xaxis3: xax('y3', false), xaxis4: xax('y4', true),
  yaxis: yax(0, [4.8, 6.1], {tickvals: vTicks, tickformat: '.2f'}),
  yaxis2: yax(1, [0, 1], {dtick: 0.2, tick0: 0, tickformat: '.1f'}),
  yaxis3: yax(2, [-0.05, 1.05], {dtick: 0.2, tick0: 0, tickformat: '.1f'}),
  yaxis4: yax(3, [-1.1, 1.1], {dtick: 0.5, tick0: 0, tickformat: '.1f'}),
  shapes, annotations
};

Plotly.newPlot('chart', traces, layout, {staticPlot: true, displayModeBar: false});
</script></body></html>
